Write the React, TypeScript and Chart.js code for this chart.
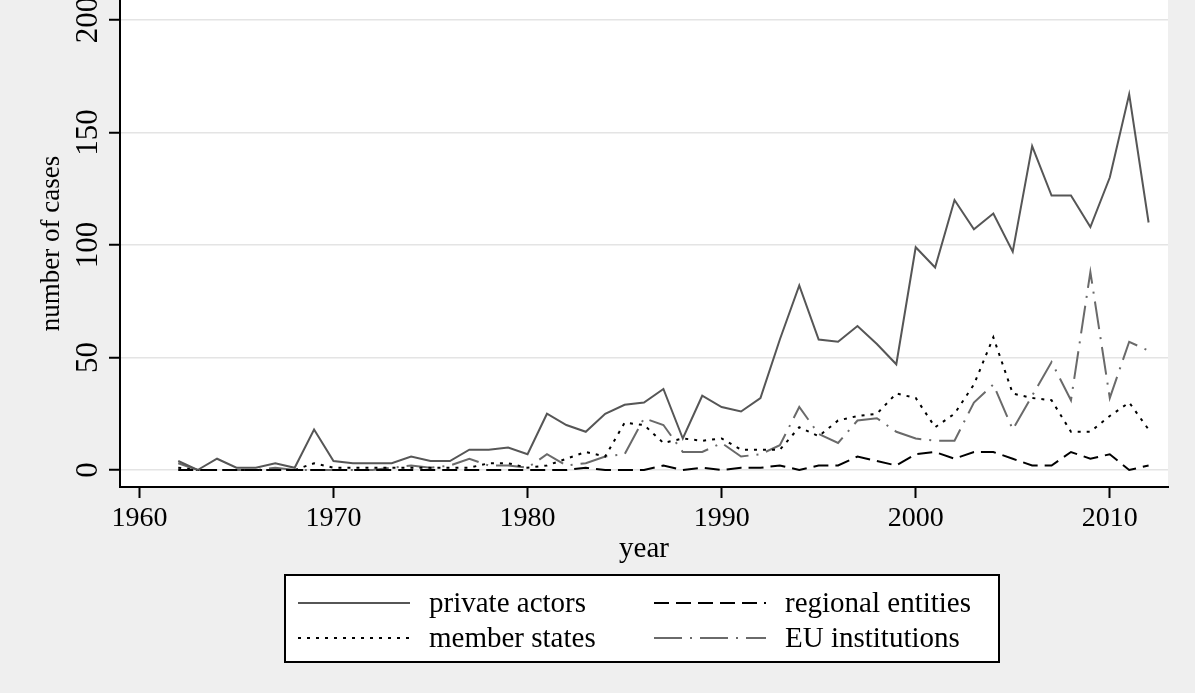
import React, { useEffect, useRef } from "react";
import { Chart, registerables } from "chart.js";

Chart.register(...registerables);

const years = [
  1962, 1963, 1964, 1965, 1966, 1967, 1968, 1969, 1970, 1971,
  1972, 1973, 1974, 1975, 1976, 1977, 1978, 1979, 1980, 1981,
  1982, 1983, 1984, 1985, 1986, 1987, 1988, 1989, 1990, 1991,
  1992, 1993, 1994, 1995, 1996, 1997, 1998, 1999, 2000, 2001,
  2002, 2003, 2004, 2005, 2006, 2007, 2008, 2009, 2010, 2011, 2012,
];

const privateActors = [
  4, 0, 5, 1, 1, 3, 1, 18, 4, 3,
  3, 3, 6, 4, 4, 9, 9, 10, 7, 25,
  20, 17, 25, 29, 30, 36, 14, 33, 28, 26,
  32, 58, 82, 58, 57, 64, 56, 47, 99, 90,
  120, 107, 114, 97, 144, 122, 122, 108, 130, 167, 110,
];

const regionalEntities = [
  0, 0, 0, 0, 0, 0, 0, 0, 0, 0,
  0, 0, 0, 0, 0, 0, 0, 0, 0, 0,
  0, 1, 0, 0, 0, 2, 0, 1, 0, 1,
  1, 2, 0, 2, 2, 6, 4, 2, 7, 8,
  5, 8, 8, 5, 2, 2, 8, 5, 7, 0, 2,
];

const memberStates = [
  1, 0, 0, 0, 0, 0, 0, 3, 1, 1,
  1, 1, 1, 1, 1, 1, 3, 3, 1, 2,
  5, 8, 6, 21, 20, 12, 14, 13, 14, 9,
  9, 9, 19, 15, 22, 24, 25, 34, 32, 19,
  25, 38, 59, 34, 32, 31, 17, 17, 24, 30, 18,
];

const euInstitutions = [
  3, 0, 0, 0, 0, 1, 0, 0, 0, 0,
  0, 1, 2, 1, 2, 5, 2, 2, 1, 7,
  2, 3, 6, 7, 23, 20, 8, 8, 12, 6,
  7, 11, 28, 16, 12, 22, 23, 17, 14, 13,
  13, 30, 38, 18, 33, 48, 31, 88, 32, 57, 53,
];

const xTickValues = [1960, 1970, 1980, 1990, 2000, 2010];
const yTickValues = [0, 50, 100, 150, 200];

const seriesLabels = ["private actors", "regional entities", "member states", "EU institutions"];

const FONT = "'Liberation Serif', 'Times New Roman', serif";
const GRAY_BG = "#efefef";

const toPoints = (vals: number[]) => years.map((yr, i) => ({ x: yr, y: vals[i] }));

const bgPlugin = {
  id: "bgPlugin",
  beforeDraw(chart: any) {
    const { ctx, chartArea, width, height } = chart;
    ctx.save();
    ctx.fillStyle = GRAY_BG;
    ctx.fillRect(0, 0, width, height);
    ctx.fillStyle = "#ffffff";
    ctx.fillRect(chartArea.left, chartArea.top, chartArea.right - chartArea.left, chartArea.bottom - chartArea.top);
    ctx.restore();
  },
};

const legendPlugin = {
  id: "boxLegend",
  afterDraw(chart: any) {
    const ctx = chart.ctx;
    ctx.save();
    const bx = 285, by = 575, bw = 714, bh = 87;
    ctx.fillStyle = "#ffffff";
    ctx.fillRect(bx, by, bw, bh);
    ctx.strokeStyle = "#000000";
    ctx.lineWidth = 2;
    ctx.strokeRect(bx, by, bw, bh);
    const slots = [
      { col: 0, row: 0 },
      { col: 1, row: 0 },
      { col: 0, row: 1 },
      { col: 1, row: 1 },
    ];
    const colX = [298, 654];
    const rowY = [603, 638];
    chart.data.datasets.forEach((ds: any, i: number) => {
      const s = slots[i];
      const x0 = colX[s.col];
      const y0 = rowY[s.row];
      ctx.beginPath();
      ctx.setLineDash(ds.borderDash || []);
      ctx.strokeStyle = ds.borderColor;
      ctx.lineWidth = 2;
      ctx.moveTo(x0, y0);
      ctx.lineTo(x0 + 112, y0);
      ctx.stroke();
      ctx.setLineDash([]);
      ctx.fillStyle = "#000000";
      ctx.font = `29px ${FONT}`;
      ctx.textAlign = "left";
      ctx.textBaseline = "middle";
      ctx.fillText(ds.label, x0 + 131, y0 + 1);
    });
    ctx.restore();
  },
};

export default function App() {
  const ref = useRef<HTMLCanvasElement>(null);
  useEffect(() => {
    const canvas = ref.current;
    if (!canvas) return;
    const chart = new Chart(canvas, {
      type: "line",
      data: {
        datasets: [
          {
            label: seriesLabels[0],
            data: toPoints(privateActors),
            borderColor: "#565656",
            borderWidth: 2,
            borderDash: [],
          },
          {
            label: seriesLabels[1],
            data: toPoints(regionalEntities),
            borderColor: "#000000",
            borderWidth: 2,
            borderDash: [15, 7],
          },
          {
            label: seriesLabels[2],
            data: toPoints(memberStates),
            borderColor: "#000000",
            borderWidth: 2,
            borderDash: [3, 6],
          },
          {
            label: seriesLabels[3],
            data: toPoints(euInstitutions),
            borderColor: "#6a6a6a",
            borderWidth: 2,
            borderDash: [28, 8, 2, 8],
          },
        ],
      },
      options: {
        animation: false,
        responsive: false,
        devicePixelRatio: 1,
        layout: { padding: { left: 0, right: 27, top: 0, bottom: 0 } },
        elements: { point: { radius: 0 }, line: { tension: 0, fill: false } },
        plugins: { legend: { display: false }, tooltip: { enabled: false } },
        scales: {
          x: {
            type: "linear",
            position: "bottom",
            min: 1959,
            max: 2013,
            afterBuildTicks: (s: any) => {
              s.ticks = xTickValues.map((v) => ({ value: v }));
            },
            afterFit: (s: any) => {
              s.height = 206;
              s.paddingLeft = 0;
              s.paddingRight = 0;
            },
            grid: {
              drawOnChartArea: false,
              drawTicks: true,
              tickLength: 11,
              tickColor: "#000000",
              tickWidth: 2,
            },
            border: { display: true, color: "#000000", width: 2 },
            ticks: {
              autoSkip: false,
              maxRotation: 0,
              padding: 4,
              color: "#000000",
              font: { family: FONT, size: 28 },
              callback: (v: any) => String(v),
            },
            title: {
              display: true,
              text: "year",
              color: "#000000",
              font: { family: FONT, size: 29 },
              padding: { top: 0, bottom: 126 },
            },
          },
          y: {
            type: "linear",
            min: -7.56,
            max: 208.9,
            afterBuildTicks: (s: any) => {
              s.ticks = yTickValues.map((v) => ({ value: v }));
            },
            afterFit: (s: any) => {
              s.width = 120;
              s.paddingTop = 0;
              s.paddingBottom = 0;
            },
            grid: {
              color: "#e4e4e4",
              lineWidth: 1.5,
              drawTicks: true,
              tickLength: 11,
              tickColor: "#000000",
              tickWidth: 2,
            },
            border: { display: true, color: "#000000", width: 2 },
            ticks: {
              minRotation: 90,
              maxRotation: 90,
              crossAlign: "center",
              padding: -3,
              color: "#000000",
              font: { family: FONT, size: 31 },
              callback: (v: any) => String(v),
            },
            title: {
              display: true,
              text: "number of cases",
              color: "#000000",
              font: { family: FONT, size: 27 },
              padding: { top: 36, bottom: 0 },
            },
          },
        },
      },
      plugins: [bgPlugin, legendPlugin],
    } as any);
    return () => chart.destroy();
  }, []);
  return (
    <div style={{ position: "fixed", left: 0, top: 0, width: 1195, height: 693, background: GRAY_BG }}>
      <canvas ref={ref} width={1195} height={693} style={{ display: "block", width: 1195, height: 693 }} />
    </div>
  );
}
